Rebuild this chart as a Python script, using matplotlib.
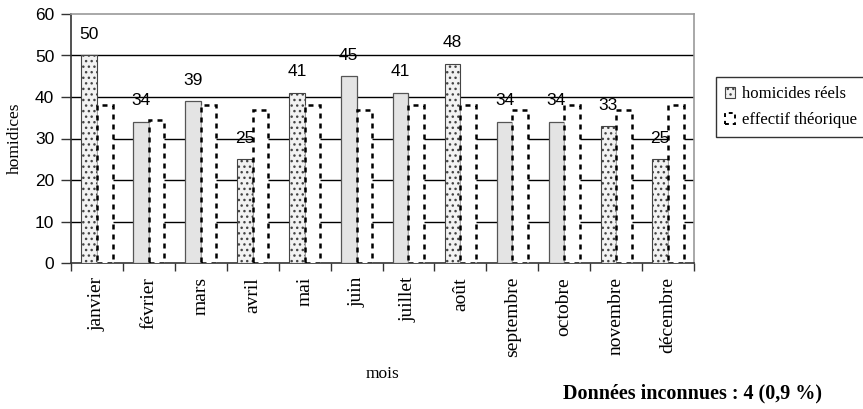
import matplotlib
matplotlib.use("Agg")
import matplotlib.pyplot as plt
from matplotlib.patches import Patch
import numpy as np

mois = ["janvier", "février", "mars", "avril", "mai", "juin", "juillet",
        "août", "septembre", "octobre", "novembre", "décembre"]
homicides_reels = [50, 34, 39, 25, 41, 45, 41, 48, 34, 34, 33, 25]
effectif_theorique = [38.1, 34.4, 38.1, 36.9, 38.1, 36.9, 38.1, 38.1, 36.9, 38.1, 36.9, 38.1]
pointille = [True, False, False, True, True, False, False, True, False, False, True, True]
yticks = [0, 10, 20, 30, 40, 50, 60]

SERIF = "Liberation Serif"
SANS = "Liberation Sans"

fig = plt.figure(figsize=(8.63, 4.09), dpi=100)
ax = fig.add_axes([71 / 863, 1 - 263 / 409, (694 - 71) / 863, (263 - 14) / 409])

x = np.arange(len(mois))
w = 0.3

for i in range(len(mois)):
    if pointille[i]:
        ax.bar(x[i] - w / 2, homicides_reels[i], width=w, facecolor="#f2f2f2",
               edgecolor="#444444", hatch="...", linewidth=0.8, zorder=3)
    else:
        ax.bar(x[i] - w / 2, homicides_reels[i], width=w, facecolor="#e4e4e4",
               edgecolor="#555555", linewidth=0.9, zorder=3)
ax.bar(x + w / 2, effectif_theorique, width=w, facecolor="white",
       edgecolor="black", linestyle=(0, (2, 2)), linewidth=1.8, zorder=3)

for i, v in enumerate(homicides_reels):
    ax.annotate(str(v), (x[i] - w / 2, v), xytext=(0, 21), textcoords="offset pixels",
                ha="center", va="center", fontsize=12.5, family=SANS, zorder=5)

ax.set_xlim(-0.5, len(mois) - 0.5)
ax.set_ylim(0, 60)
ax.set_yticks(yticks)
ax.set_yticklabels([str(t) for t in yticks], fontsize=12.5, family=SANS)
for t in yticks[1:-1]:
    ax.axhline(t, color="black", linewidth=1.0, zorder=1)

ax.set_xticks(x)
ax.set_xticklabels(mois, rotation=90, fontsize=14, family=SERIF)
ax.set_xticks(np.arange(len(mois) + 1) - 0.5, minor=True)
ax.tick_params(axis="x", which="major", length=0, pad=10)
ax.tick_params(axis="x", which="minor", length=6, width=1, direction="out", color="#333333")
ax.tick_params(axis="y", length=7, width=1, direction="out", pad=5, color="#333333")

for s in ["top", "right"]:
    ax.spines[s].set_color("#999999")
    ax.spines[s].set_linewidth(1.2)
for s in ["left", "bottom"]:
    ax.spines[s].set_color("#333333")
    ax.spines[s].set_linewidth(1.2)

ax.set_ylabel("homidices", fontsize=12.5, family=SERIF, labelpad=9)
ax.set_xlabel("mois", fontsize=12.5, family=SERIF, labelpad=6)

handles = [Patch(facecolor="#f2f2f2", edgecolor="#444444", hatch="...", linewidth=0.8),
           Patch(facecolor="white", edgecolor="black", linestyle=(0, (2, 2)), linewidth=1.4)]
leg = fig.legend(handles, ["homicides réels", "effectif théorique"],
                 loc="upper left", bbox_to_anchor=(716 / 863, 1 - 77 / 409),
                 prop={"family": SERIF, "size": 12}, frameon=True, fancybox=False,
                 edgecolor="black", handlelength=0.6, handleheight=0.6,
                 handletextpad=0.4, borderpad=0.55, labelspacing=0.6,
                 borderaxespad=0)
leg.get_frame().set_linewidth(1.0)

fig.text(563 / 863, 1 - 393 / 409, "Données inconnues : 4 (0,9 %)", fontsize=14.5,
         family=SERIF, fontweight="bold", ha="left", va="center")

fig.savefig("out.png", dpi=100)
